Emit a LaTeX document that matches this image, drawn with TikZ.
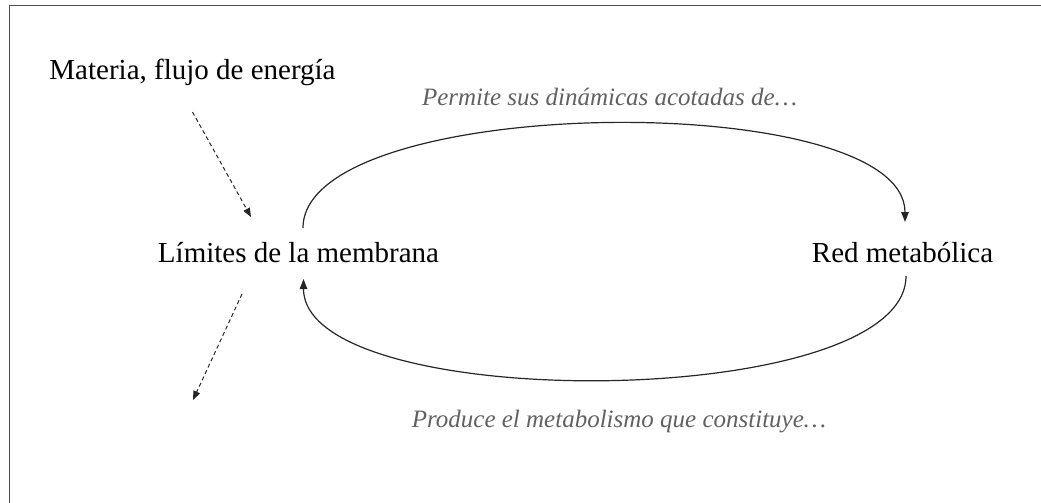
\documentclass[tikz,border=0pt]{standalone}
\usepackage{fontspec}
\setmainfont{Liberation Serif}
\usetikzlibrary{arrows.meta}

\begin{document}
\begin{tikzpicture}[x=1pt,y=-1pt,
  concept/.style={font=\fontsize{29}{34}\selectfont, inner sep=0pt, text height=20pt, text depth=0pt, outer ysep=16pt, anchor=base},
  remark/.style={font=\fontsize{25}{30}\selectfont\itshape, text=black!62, inner sep=0pt, anchor=base},
  cyclearc/.style={line width=1.2pt, black!85, -{Triangle[length=10pt,width=7.5pt]}},
  flow/.style={line width=1pt, black!85, dash pattern=on 4pt off 3pt, -{Triangle[length=9pt,width=7pt]}}]
\useasboundingbox (0,0) rectangle (1041,503);
\draw[black!70, line width=1pt] (9.5,503) -- (9.5,5.5) -- (1041,5.5);
\node[concept] (mat) at (192.5,80) {Materia, flujo de energía};
\node[concept] (lim) at (298.5,262) {Límites de la membrana};
\node[concept] (red) at (902.5,262) {Red metabólica};
\node[remark] (perm) at (609.5,105) {Permite sus dinámicas acotadas de…};
\node[remark] (prod) at (619,427) {Produce el metabolismo que constituye…};
\coordinate (inflow) at ([yshift=-16pt]mat.south);
\coordinate (intip) at (251,217);
\coordinate (outflow) at (242,294);
\coordinate (outtip) at (193,400);
\draw[flow] (inflow) -- (intip);
\draw[flow] (outflow) -- (outtip);
\draw[cyclearc] ([xshift=4.5pt,yshift=-2pt]lim.north) .. controls +(0,-135) and +(0,-135) .. ([xshift=2.5pt,yshift=4pt]red.north);
\draw[cyclearc] ([xshift=3.5pt,yshift=2pt]red.south) .. controls +(0,136) and +(0,136) .. ([xshift=5pt,yshift=-1pt]lim.south);
\end{tikzpicture}
\end{document}
